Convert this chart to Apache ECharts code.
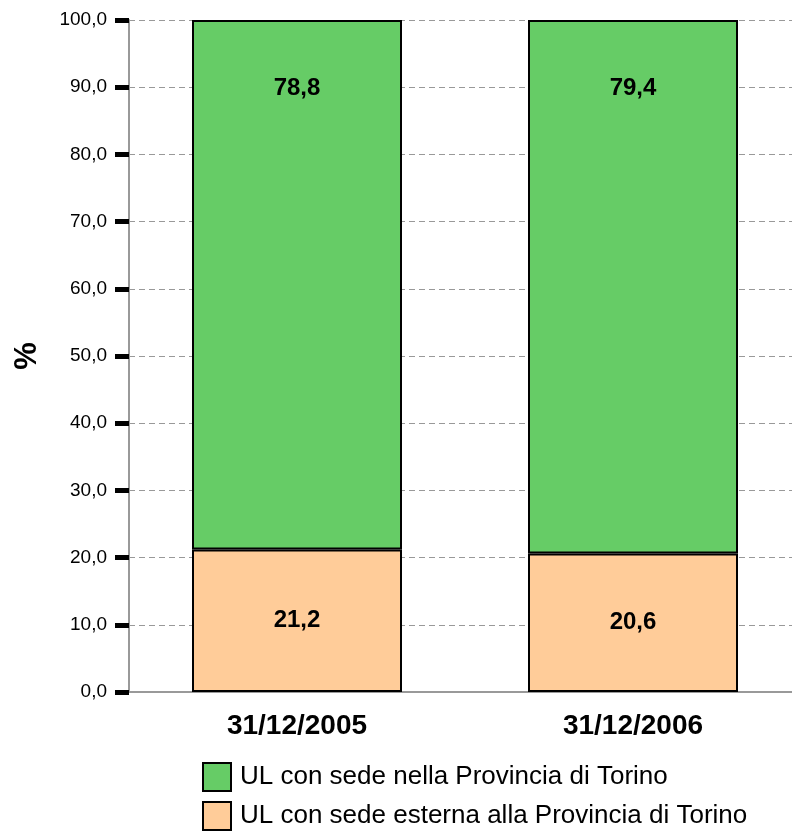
<!DOCTYPE html>
<html>
<head>
<meta charset="utf-8">
<script src="https://cdn.jsdelivr.net/npm/echarts@6/dist/echarts.min.js"></script>
<style>
html,body{margin:0;padding:0;background:#fff;}
#chart{width:792px;height:831px;}
</style>
</head>
<body>
<div id="chart"></div>
<script>
const categories = ['31/12/2005', '31/12/2006'];
const seriesNames = ['UL con sede nella Provincia di Torino', 'UL con sede esterna alla Provincia di Torino'];
const insideValues = [78.8, 79.4];
const outsideValues = [21.2, 20.6];
const yTicks = [0, 10, 20, 30, 40, 50, 60, 70, 80, 90, 100];

const FONT = 'Liberation Sans, Arial, sans-serif';
const fmt = v => Number(v).toFixed(1).replace('.', ',');

const legendBase = {
  orient: 'vertical',
  left: 202,
  padding: 0,
  itemWidth: 28,
  itemHeight: 28,
  itemGap: 8,
  icon: 'rect',
  textStyle: { fontFamily: FONT, fontSize: 26, color: '#000', padding: [0, 0, 0, 4] }
};

const chart = echarts.init(document.getElementById('chart'));
chart.setOption({
  animation: false,
  textStyle: { fontFamily: FONT },
  grid: { left: 129, width: 672, top: 20, bottom: 139, containLabel: false, outerBoundsMode: 'none' },
  legend: [
    Object.assign({}, legendBase, { top: 762, data: [seriesNames[0]] }),
    Object.assign({}, legendBase, { top: 801, data: [seriesNames[1]] })
  ],
  xAxis: {
    type: 'category',
    data: categories,
    axisLine: { lineStyle: { color: '#999', width: 2 } },
    axisTick: { alignWithLabel: true, length: 12, lineStyle: { color: '#000', width: 5 } },
    axisLabel: { fontFamily: FONT, fontSize: 28, fontWeight: 'bold', color: '#000', margin: 20 }
  },
  yAxis: {
    type: 'value',
    min: yTicks[0],
    max: yTicks[yTicks.length - 1],
    interval: yTicks[1] - yTicks[0],
    name: '%',
    nameLocation: 'middle',
    nameGap: 86,
    nameRotate: 90,
    nameTextStyle: { fontFamily: FONT, fontSize: 31, fontWeight: 'bold', color: '#000' },
    axisLine: { show: true, lineStyle: { color: '#999', width: 2 } },
    axisTick: { show: true, length: 14, lineStyle: { color: '#000', width: 5 } },
    axisLabel: { fontFamily: FONT, fontSize: 19, color: '#000', margin: 22, formatter: v => fmt(v) },
    splitLine: { show: true, lineStyle: { color: '#999', type: [6, 4], width: 1 } }
  },
  series: [
    {
      name: seriesNames[1],
      type: 'bar',
      stack: 'total',
      barWidth: 210,
      data: outsideValues,
      itemStyle: { color: '#FFCC99', borderColor: '#000', borderWidth: 2 },
      label: { show: true, position: 'inside', fontFamily: FONT, fontSize: 24, fontWeight: 'bold', color: '#000', formatter: p => fmt(p.value) }
    },
    {
      name: seriesNames[0],
      type: 'bar',
      stack: 'total',
      barWidth: 210,
      data: insideValues,
      itemStyle: { color: '#66CC66', borderColor: '#000', borderWidth: 2 },
      label: { show: true, position: 'insideTop', distance: 56, fontFamily: FONT, fontSize: 24, fontWeight: 'bold', color: '#000', formatter: p => fmt(p.value) }
    }
  ]
});
</script>
</body>
</html>
